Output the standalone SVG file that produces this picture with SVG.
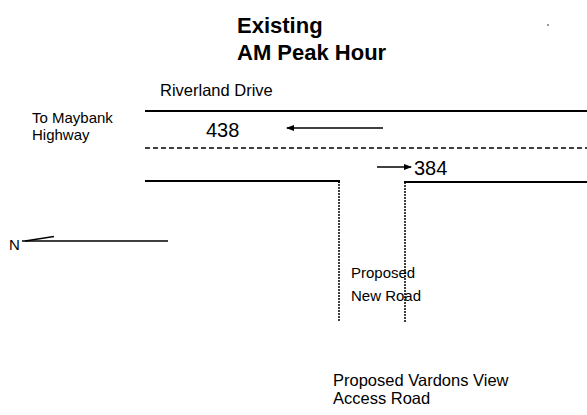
<svg xmlns="http://www.w3.org/2000/svg" width="587" height="415" viewBox="0 0 587 415">
<style>
text{font-family:"Liberation Sans",Arial,sans-serif;fill:#000}
.t{font-size:22px;font-weight:bold}
.l{font-size:15px}
.n{font-size:20px}
.edge{stroke:#000;stroke-width:2;fill:none}
.dash{stroke:#000;stroke-width:1.5;stroke-dasharray:5,3;fill:none}
.dot{stroke:#000;stroke-width:1.5;stroke-dasharray:2,1;fill:none}
.arr{stroke:#000;stroke-width:1.3;fill:none}
</style>
<defs>
<marker id="ah" markerWidth="8" markerHeight="6" refX="7" refY="3" orient="auto" markerUnits="userSpaceOnUse">
<path d="M0,0 L8,3 L0,6 Z" fill="#000"/>
</marker>
</defs>
<g id="title">
<text class="t" x="237" y="33">Existing</text>
<text class="t" x="237" y="60">AM Peak Hour</text>
</g>
<g id="riverland-label"><text class="l" x="160" y="96" style="font-size:16.5px">Riverland Drive</text></g>
<g id="maybank-label">
<text class="l" x="32" y="123">To Maybank</text>
<text class="l" x="32" y="140">Highway</text>
</g>
<g id="roads">
<line class="edge" x1="145" y1="111" x2="587" y2="111"/>
<line class="dash" x1="145" y1="148" x2="587" y2="148"/>
<polyline class="edge" points="145,181 339,181 339,183"/>
<polyline class="edge" points="405,183 405,182 587,182"/>
<line class="dot" x1="339" y1="181" x2="339" y2="322"/>
<line class="dot" x1="405" y1="182" x2="405" y2="322"/>
</g>
<g id="connectors">
<line class="arr" x1="383" y1="128" x2="287" y2="128" marker-end="url(#ah)"/>
<line class="arr" x1="377" y1="167" x2="411" y2="167" marker-end="url(#ah)"/>
<line class="arr" x1="22" y1="241" x2="168" y2="241"/>
<line class="arr" x1="25" y1="241" x2="54" y2="236.5"/>
</g>
<g id="volume-438"><text class="n" x="206" y="137">438</text></g>
<g id="volume-384"><text class="n" x="414" y="175">384</text></g>
<g id="north"><text class="l" x="9" y="250">N</text></g>
<g id="new-road-label">
<text class="l" x="351" y="278">Proposed</text>
<text class="l" x="351" y="301">New Road</text>
</g>
<g id="vardons-label">
<text class="l" x="333" y="386" style="font-size:16.5px">Proposed Vardons View</text>
<text class="l" x="333" y="404" style="font-size:16.5px">Access Road</text>
</g>
<rect x="547" y="24" width="2" height="2" fill="#999"/>
</svg>
